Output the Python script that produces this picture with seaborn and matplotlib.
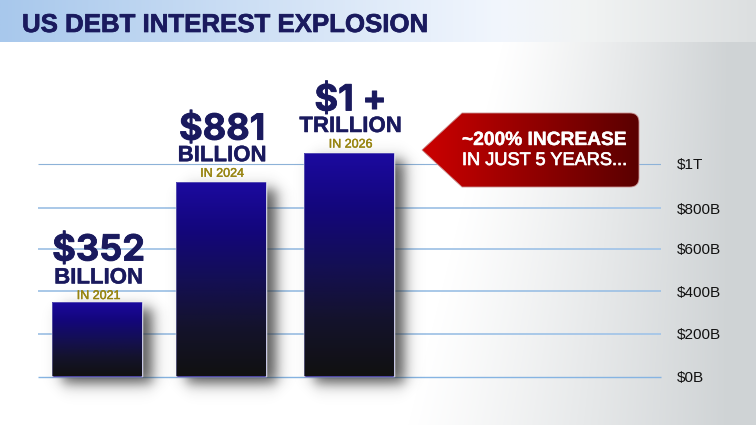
import matplotlib.pyplot as plt
import matplotlib.patheffects as pe
import numpy as np
import pandas as pd
import seaborn as sns
from matplotlib.colors import LinearSegmentedColormap
from matplotlib.patches import PathPatch
from matplotlib.path import Path

# values (bar heights follow the drawn bars, not the labels)
years = ["2021", "2024", "2026"]
bar_values = [352, 913, 1050]
amount_labels = ["$352", "$881", "$1 +"]
unit_labels = ["BILLION", "BILLION", "TRILLION"]
year_labels = ["IN 2021", "IN 2024", "IN 2026"]
grid_values = [0, 200, 400, 600, 790, 1000]
grid_labels = ["$0B", "$200B", "$400B", "$600B", "$800B", "$1T"]

NAVY = "#1a1a5e"
GOLD = "#978410"
W, H = 756, 425
X_UNIT = 126  # pixels per category
Y_UNIT = 0.213  # pixels per $B

sns.set_theme(style="white")
plt.rcParams["font.family"] = ["Liberation Sans", "DejaVu Sans"]

fig = plt.figure(figsize=(W / 100, H / 100), dpi=100)

# background and header band, in pixel coordinates
bg = fig.add_axes([0, 0, 1, 1], zorder=0)
bg.set_axis_off()
xx, yy = np.meshgrid(np.arange(W), np.arange(H))
t = np.clip((xx - (500 - 0.25 * (yy - 45))) / (230 + 0.25 * (yy - 45)), 0, 1) ** 1.15
grey = LinearSegmentedColormap.from_list("grey", ["#ffffff", "#cfd3d5"])
bg.imshow(t, cmap=grey, vmin=0, vmax=1, extent=(0, W, H, 0), aspect="auto")
band = LinearSegmentedColormap.from_list(
    "band", [(0, "#a8c8ec"), (0.57, "#e8f0fb"), (0.66, "#f1f6fd"), (0.78, "#f1f3f3"), (1, "#dcdfe0")])
bg.imshow(np.linspace(0, 1, 256)[None, :], cmap=band, extent=(0, W, 42, 0), aspect="auto")
bg.set_xlim(0, W)
bg.set_ylim(H, 0)
bg.text(22, 32, "US DEBT INTEREST EXPLOSION", color=NAVY, fontsize=18.6, fontweight="bold",
        path_effects=[pe.withStroke(linewidth=0.5, foreground=NAVY)])

# main chart
ax = fig.add_axes([38 / W, 48.5 / H, 623 / W, 276.5 / H], zorder=1)
ax.patch.set_alpha(0)
df = pd.DataFrame({"year": years, "value": bar_values})
sns.barplot(data=df, x="year", y="value", width=90 / X_UNIT, color="#14069a", ax=ax, zorder=3)
xlim = ((38 - 97) / X_UNIT, (661 - 97) / X_UNIT)
ylim = (0, 276.5 / Y_UNIT)

ax.set_yticks(grid_values, grid_labels)
ax.yaxis.tick_right()
ax.tick_params(axis="y", length=0, pad=11.5, labelsize=11, labelcolor="#111111")
ax.tick_params(axis="x", length=0, labelbottom=False)
ax.set_xlabel("")
ax.set_ylabel("")
for spine in ax.spines.values():
    spine.set_visible(False)
ax.hlines([200, 600, 790], xlim[0], xlim[1], color="#a9c8e8", linewidth=1.4, zorder=1)
ax.hlines([400], xlim[0], xlim[1], color="#9abfe4", linewidth=1.2, zorder=1)
ax.hlines([0], xlim[0], xlim[1], color="#86b4e2", linewidth=1.0, zorder=1, clip_on=False)
ax.hlines([1000], xlim[0], xlim[1], color="#8db2d8", linewidth=0.8, zorder=1)

bar_cmap = LinearSegmentedColormap.from_list(
    "bar", ["#1c0aa0", "#13067c", "#140f55", "#14132c", "#111111"])
shadow_px = 32
label_shift = 1.2  # labels sit a little right of the bar centre
label_drop = [2, 0, 0]  # the short bar's labels sit closer to it


def soft_edge(a, lo, hi):
    return 1 / (1 + np.exp(-(a - lo) / 4.0)) * 1 / (1 + np.exp((a - hi) / 4.0))


for i, bar in enumerate(ax.patches):
    # middle bar sits slightly left of even spacing
    if i == 1:
        bar.set_x(bar.get_x() - 2.5 / X_UNIT)
    x0, w, h = bar.get_x(), bar.get_width(), bar.get_height()

    # soft drop shadow, offset to the lower right
    sx = np.arange(-shadow_px, w * X_UNIT + shadow_px)
    sy = np.arange(-shadow_px, h * Y_UNIT + shadow_px)
    alpha = np.outer(soft_edge(sy, -8, h * Y_UNIT - 8), soft_edge(sx, 10, w * X_UNIT + 10)) * 0.8
    rgba = np.zeros(alpha.shape + (4,))
    rgba[..., :3] = 0.2
    rgba[..., 3] = alpha
    ax.imshow(rgba, origin="lower", aspect="auto", zorder=2, clip_on=False,
              extent=(x0 - shadow_px / X_UNIT, x0 + w + shadow_px / X_UNIT,
                      -shadow_px / Y_UNIT, h + shadow_px / Y_UNIT))

    # vertical gradient clipped to the bar
    img = ax.imshow(np.linspace(0, 1, 256)[:, None], cmap=bar_cmap, aspect="auto", zorder=4,
                    extent=(x0, x0 + w, 0, h))
    img.set_clip_path(bar)
    ax.add_patch(plt.Rectangle((x0, 0), w, h, fill=False, edgecolor="#8f8fc8", linewidth=0.6,
                               alpha=0.6, zorder=5, clip_on=False))

    cx = x0 + w / 2
    drop = label_drop[i]
    # label stack above the bar
    ax.annotate(year_labels[i], (cx, h), xytext=(label_shift, 3.8 - drop), textcoords="offset points",
                ha="center", va="baseline", fontsize=9, color=GOLD,
                path_effects=[pe.withStroke(linewidth=0.3, foreground=GOLD)])
    ax.annotate(unit_labels[i], (cx, h), xytext=(label_shift, 15 - drop), textcoords="offset points",
                ha="center", va="baseline", fontsize=16, fontweight="bold", color=NAVY,
                path_effects=[pe.withStroke(linewidth=0.3, foreground=NAVY)])
    ax.annotate(amount_labels[i], (cx, h), xytext=(label_shift, 30.5 - drop / 2),
                textcoords="offset points", ha="center", va="baseline", fontsize=26, fontweight="bold",
                color=NAVY, family=["Inter", "DejaVu Sans"],
                path_effects=[pe.withStroke(linewidth=0.6, foreground=NAVY)])
ax.set_xlim(xlim)
ax.set_ylim(ylim)

# callout arrow, pixel coordinates
fg = fig.add_axes([0, 0, 1, 1], zorder=3)
fg.set_axis_off()
fg.patch.set_alpha(0)
fg.set_xlim(0, W)
fg.set_ylim(H, 0)
verts = [(422, 150), (462, 113), (630, 113), (639, 113), (639, 122), (639, 178), (639, 187),
         (630, 187), (462, 187), (422, 150)]
codes = [Path.MOVETO, Path.LINETO, Path.LINETO, Path.CURVE3, Path.CURVE3, Path.LINETO, Path.CURVE3,
         Path.CURVE3, Path.LINETO, Path.CLOSEPOLY]
callout = PathPatch(Path(verts, codes), facecolor="none", edgecolor="#c98f8f", linewidth=0.6)
fg.add_patch(callout)
red = LinearSegmentedColormap.from_list("red", ["#cc0000", "#5a0000"])
grad = fg.imshow(np.linspace(0, 1, 256)[None, :], cmap=red, extent=(422, 639, 187, 113), aspect="auto")
grad.set_clip_path(callout)
fg.set_xlim(0, W)
fg.set_ylim(H, 0)
fg.text(462, 145, "~200% INCREASE", color="white", fontsize=13.8, fontweight="bold",
        path_effects=[pe.withStroke(linewidth=0.3, foreground="white")])
fg.text(462, 165, "IN JUST 5 YEARS...", color="white", fontsize=13.1,
        path_effects=[pe.withStroke(linewidth=0.5, foreground="white")])

fig.savefig("out.png", dpi=100)
